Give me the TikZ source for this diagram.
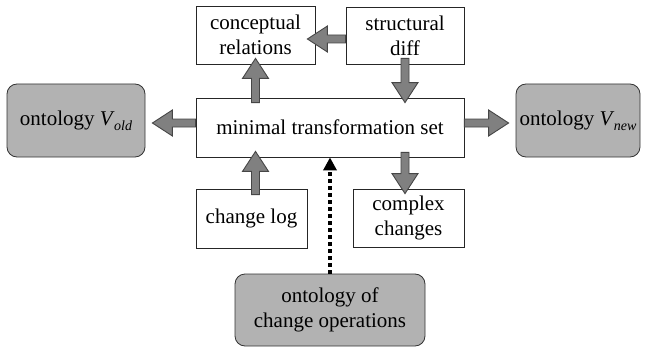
\documentclass[tikz,border=0pt]{standalone}
\usepackage{fontspec}
\setmainfont{Liberation Serif}
\usetikzlibrary{calc,arrows.meta}
\definecolor{boxgray}{RGB}{178,178,178}
\definecolor{arrfill}{RGB}{128,128,128}
\definecolor{arrline}{RGB}{70,70,70}
\newcommand\Vsub[1]{\textit{V}\kern-0.5pt\raisebox{-5pt}{\fontsize{14}{14}\selectfont\itshape #1}}
\tikzset{
  plainbox/.style={draw=black!85, line width=0.8pt, fill=white, align=center, inner sep=0pt,
    font=\fontsize{21}{25}\selectfont},
  roundbox/.style={plainbox, draw=black!80, fill=boxgray, rounded corners=10pt},
  barrow/.style={draw=arrline, fill=arrfill, line width=0.9pt, line join=miter},
  dotarrow/.style={line width=4pt, dash pattern=on 4pt off 3pt, -{Triangle[length=13pt,width=13pt]}}
}
\newcommand\blockarr[2]{%
  \coordinate (bs) at (#1);
  \coordinate (be) at (#2);
  \coordinate (hb) at ($(be)!20pt!(bs)$);
  \draw[barrow] ($(bs)!4pt!90:(be)$) -- ($(hb)!4pt!90:(be)$) -- ($(hb)!13pt!90:(be)$) -- (be)
    -- ($(hb)!13pt!-90:(be)$) -- ($(hb)!4pt!-90:(be)$) -- ($(bs)!4pt!-90:(be)$) -- cycle;}
\begin{document}
\begin{tikzpicture}[x=1pt,y=-1pt]
\useasboundingbox (0,0) rectangle (647,350);
\node[plainbox, minimum width=119pt, minimum height=58pt] (cr) at (255.5,35) {conceptual\\relations};
\node[plainbox, minimum width=118pt, minimum height=57pt] (sd) at (405,35.5) {structural\\diff};
\node[plainbox, minimum width=268pt, minimum height=59pt] (main) at (330,127.5) {minimal transformation set};
\node[roundbox, minimum width=138pt, minimum height=73pt] (vold) at (76,120.5) {ontology \Vsub{old}};
\node[roundbox, minimum width=124pt, minimum height=73pt] (vnew) at (578,120.5) {ontology \Vsub{new}};
\node[plainbox, minimum width=111pt, minimum height=59pt] (cl) at (251.5,218.5) {change log};
\node[plainbox, minimum width=111pt, minimum height=58pt] (cc) at (408.5,218) {complex\\changes};
\node[roundbox, minimum width=190pt, minimum height=72pt] (oco) at (330,310) {ontology of\\change operations};
% helper coordinates
\coordinate (mcrN) at (main.north -| cr.south);
\coordinate (mcrS) at (main.south -| cr.south);
\coordinate (clN) at (cl.north -| cr.south);
\coordinate (msdN) at (main.north -| sd.south);
\coordinate (mccS) at (main.south -| sd.south);
\coordinate (ccN) at (cc.north -| sd.south);
% block arrows
\blockarr{[yshift=-3.5pt]sd.west}{[xshift=-8pt,yshift=-4pt]cr.east}
\blockarr{[yshift=-5pt]mcrN}{[yshift=6pt]cr.south}
\blockarr{[yshift=6pt]sd.south}{[yshift=-5pt]msdN}
\blockarr{[yshift=4.5pt]main.west}{[xshift=7pt,yshift=-2.5pt]vold.east}
\blockarr{[yshift=4.5pt]main.east}{[xshift=-7pt,yshift=-2.5pt]vnew.west}
\blockarr{[yshift=-6pt]clN}{[yshift=6pt]mcrS}
\blockarr{[yshift=5pt]mccS}{[yshift=-5pt]ccN}
% dotted arrow
\draw[dotarrow] (oco.north) -- (main.south);
\end{tikzpicture}
\end{document}
